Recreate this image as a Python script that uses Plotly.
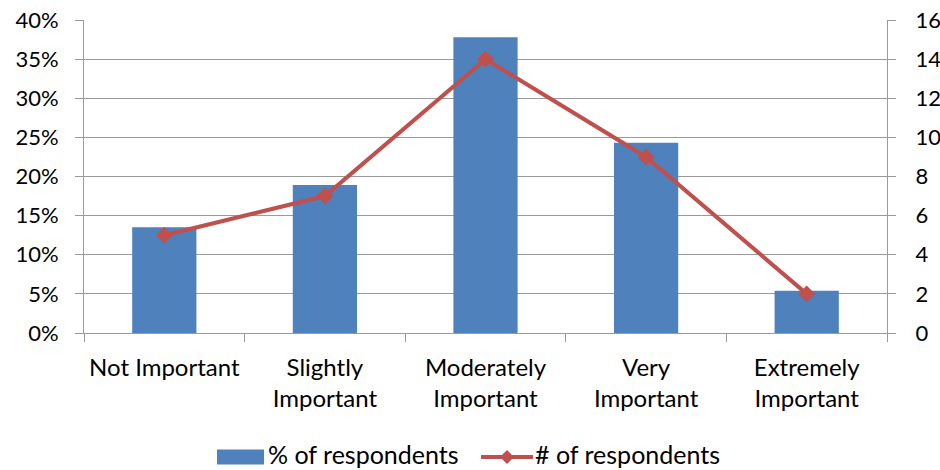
import plotly.graph_objects as go

categories = ["Not Important", "Slightly<br>Important", "Moderately<br>Important",
              "Very<br>Important", "Extremely<br>Important"]
respondent_counts = [5, 7, 14, 9, 2]
respondent_share = [0.135, 0.189, 0.378, 0.243, 0.054]

bar_color = "#4F81BD"
line_color = "#C0504D"
grid_color = "#9A9A9A"
font_family = "Lato, 'Open Sans', sans-serif"

fig = go.Figure()
fig.add_trace(go.Bar(
    x=categories, y=respondent_share, name="% of respondents",
    marker=dict(color=bar_color, line=dict(width=0)),
    width=0.4, yaxis="y", showlegend=False,
))
fig.add_trace(go.Scatter(
    x=categories, y=respondent_counts, name="# of respondents",
    mode="lines+markers", yaxis="y2",
    line=dict(color=line_color, width=4),
    marker=dict(symbol="diamond", size=13, color=line_color),
    showlegend=False,
))

cat_font = dict(family=font_family, size=24, color="#000000")
num_font = dict(family=font_family, size=22, color="#000000")
legend_font = dict(family=font_family, size=25, color="#000000")

fig.update_layout(
    width=940, height=470,
    margin=dict(l=84, r=53, t=20, b=137),
    paper_bgcolor="white", plot_bgcolor="white",
    font=cat_font,
    xaxis=dict(
        type="category", tickson="boundaries", ticks="outside", ticklen=8,
        tickcolor=grid_color, tickwidth=1, showline=True, linecolor=grid_color,
        linewidth=1, showgrid=False, tickfont=cat_font, ticklabelstandoff=13,
        tickangle=0, automargin=False,
    ),
    yaxis=dict(
        range=[0, 0.4], dtick=0.05, tickformat=".0%", showgrid=True,
        gridcolor=grid_color, gridwidth=1, ticks="outside", ticklen=8,
        tickcolor=grid_color, showline=True, linecolor=grid_color,
        zeroline=False, tickfont=num_font, ticklabelstandoff=12,
        automargin=False,
    ),
    yaxis2=dict(
        range=[0, 16], dtick=2, overlaying="y", side="right", showgrid=False,
        ticks="outside", ticklen=8, tickcolor=grid_color, showline=True,
        linecolor=grid_color, zeroline=False, tickfont=num_font,
        ticklabelstandoff=15, automargin=False,
    ),
)

# Legend drawn below the plot: bar swatch, line key with a diamond, labels
plot_w, plot_h = 803, 313
def px_x(px):
    return (px - 84) / plot_w

legend_y = (333 - 457) / plot_h
text_y = (333 - 454) / plot_h
fig.add_shape(type="rect", xref="paper", yref="paper",
              x0=px_x(217), x1=px_x(264),
              y0=legend_y - 7.5 / plot_h, y1=legend_y + 7.5 / plot_h,
              fillcolor=bar_color, line=dict(width=0))
fig.add_shape(type="line", xref="paper", yref="paper",
              x0=px_x(481), x1=px_x(533), y0=legend_y, y1=legend_y,
              line=dict(color=line_color, width=4))
fig.add_shape(type="path", xref="paper", yref="paper",
              xsizemode="pixel", ysizemode="pixel",
              xanchor=px_x(507), yanchor=legend_y,
              path="M 0 7 L 7 0 L 0 -7 L -7 0 Z",
              fillcolor=line_color, line=dict(width=0))
fig.add_annotation(xref="paper", yref="paper", x=px_x(267), y=text_y,
                   text="% of respondents", showarrow=False, xanchor="left",
                   yanchor="middle", font=legend_font, borderpad=0)
fig.add_annotation(xref="paper", yref="paper", x=px_x(534), y=text_y,
                   text="# of respondents", showarrow=False, xanchor="left",
                   yanchor="middle", font=legend_font, borderpad=0)

fig.write_html("out.html")
